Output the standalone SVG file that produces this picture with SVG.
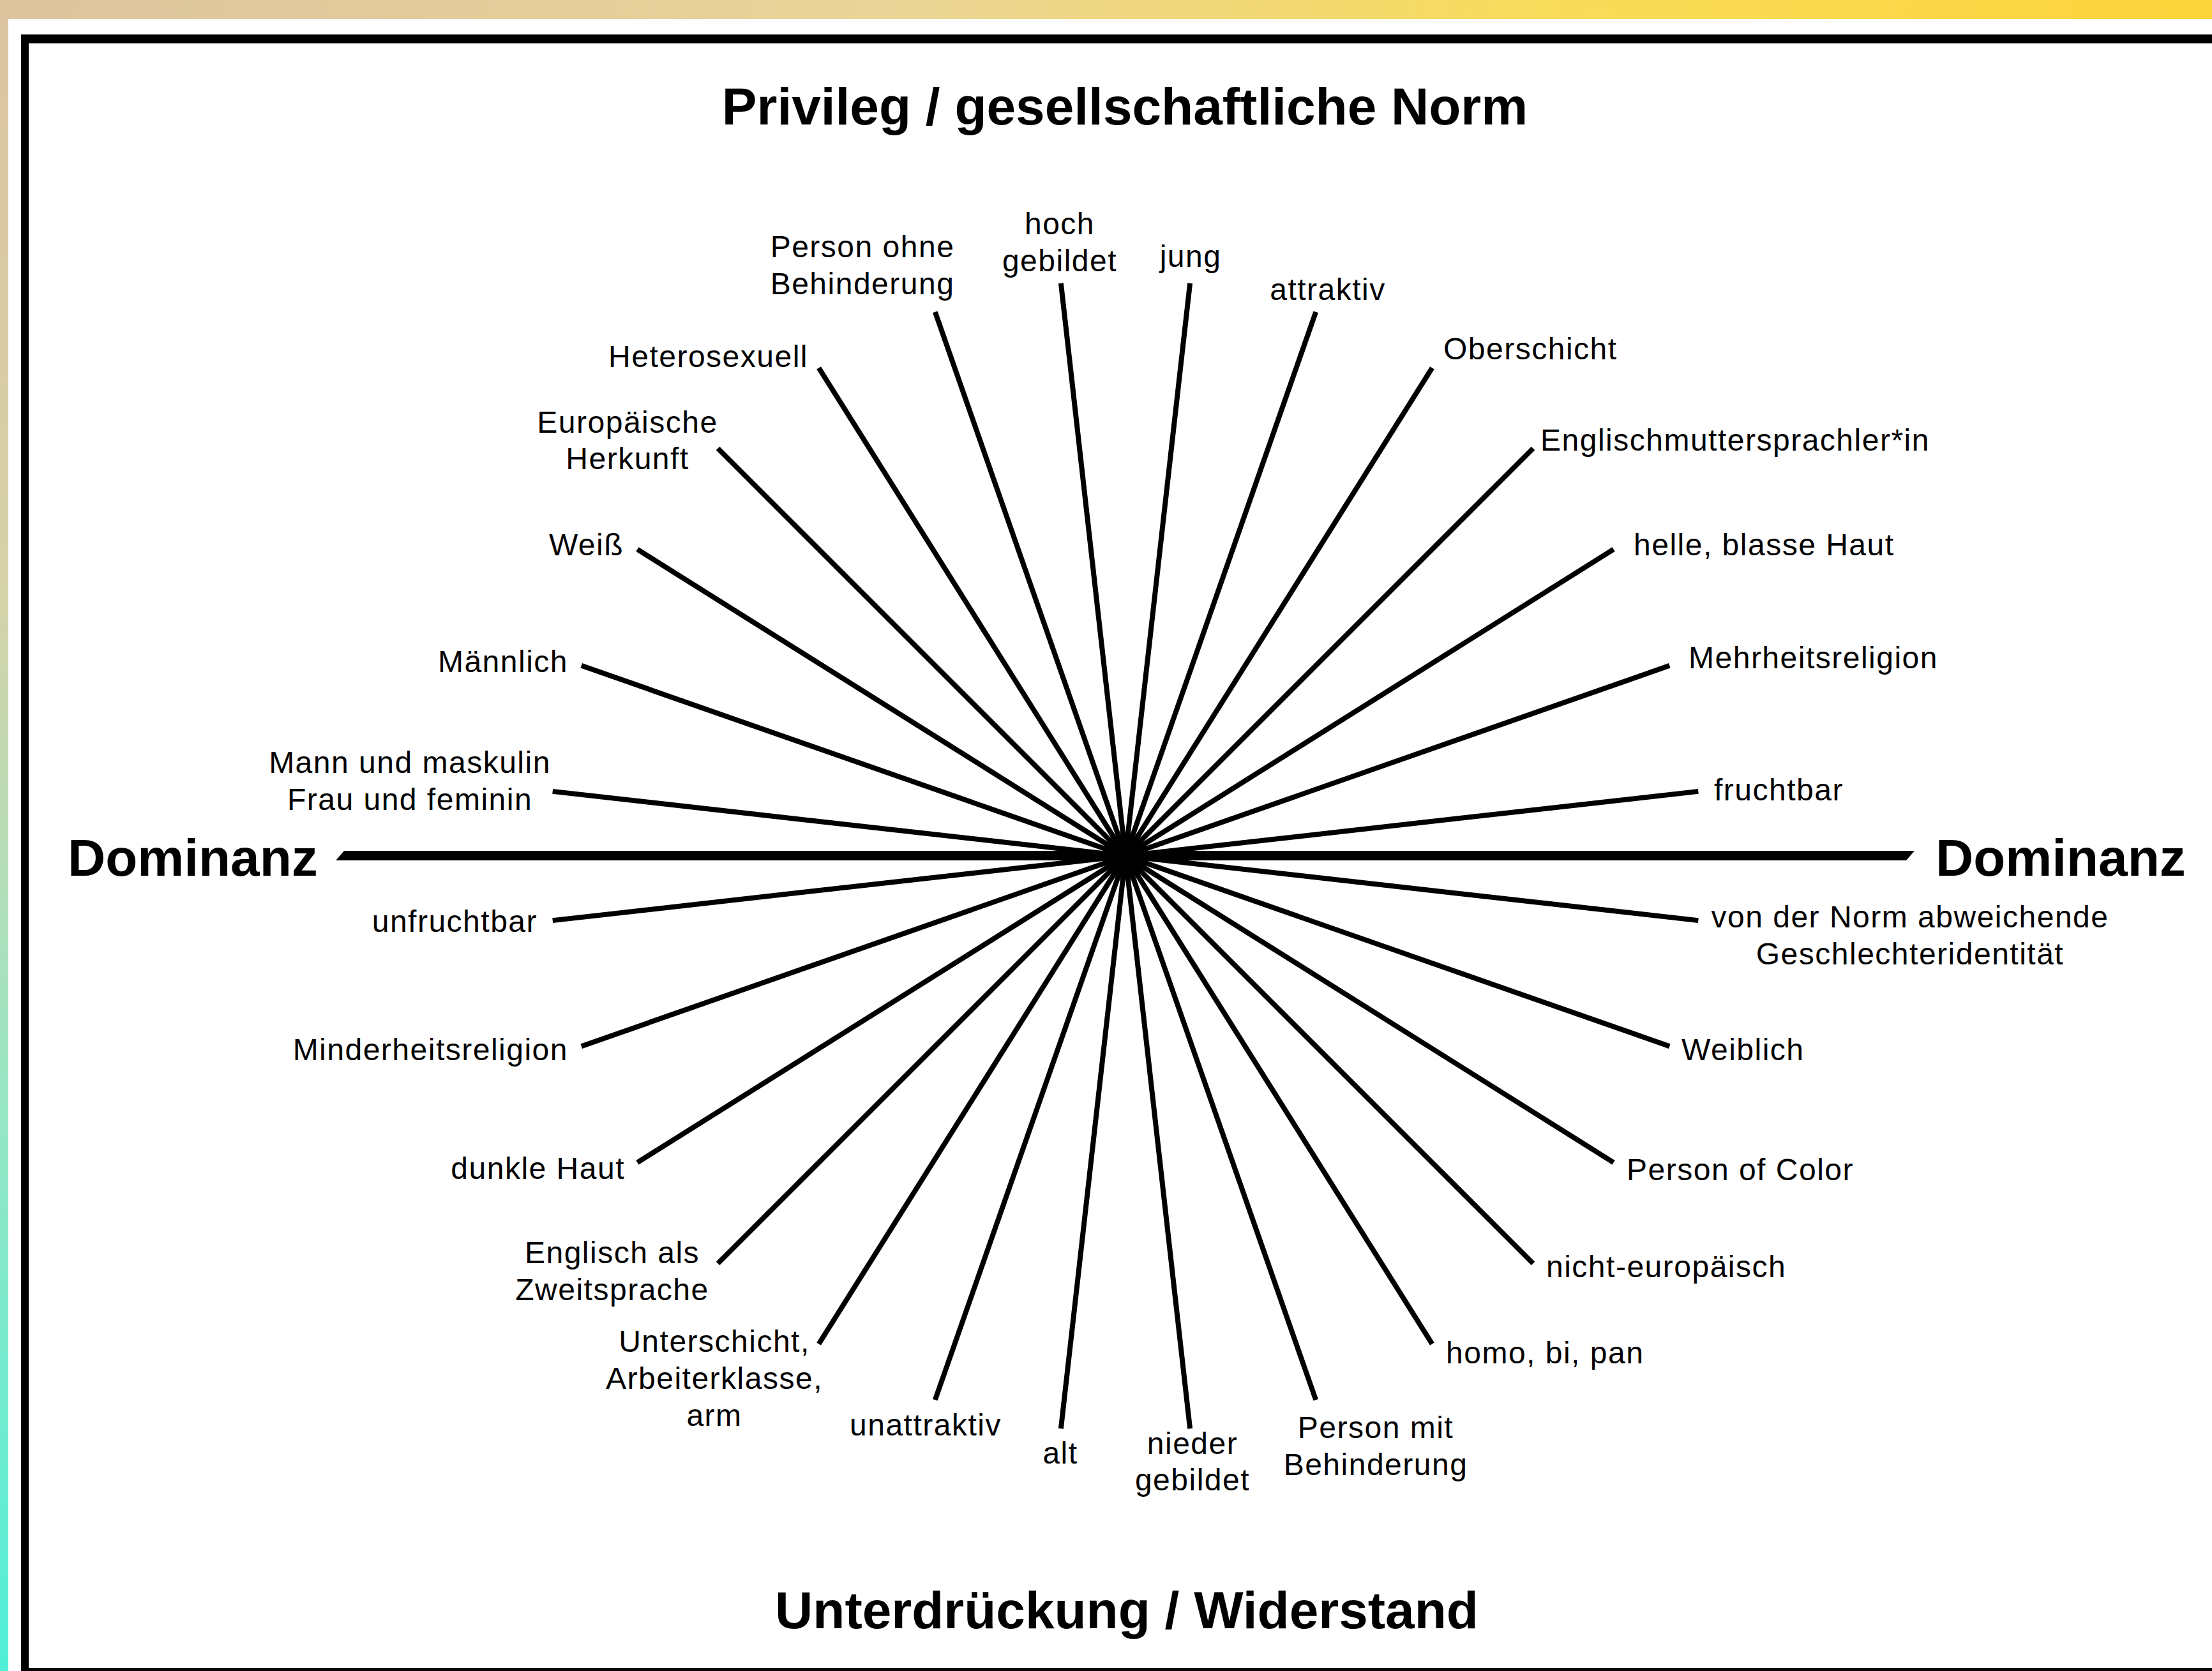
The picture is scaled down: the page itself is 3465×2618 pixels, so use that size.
<svg xmlns="http://www.w3.org/2000/svg" width="3465" height="2618" viewBox="0 0 3465 2618">
<defs>
<linearGradient id="gTop" x1="0" y1="0" x2="1" y2="0">
<stop offset="0" stop-color="#dcc49f"/>
<stop offset="0.4" stop-color="#ead497"/>
<stop offset="0.7" stop-color="#f8dc5a"/>
<stop offset="1" stop-color="#fcd43a"/>
</linearGradient>
<linearGradient id="gLeft" x1="0" y1="0" x2="0" y2="1">
<stop offset="0" stop-color="#dcc49f"/>
<stop offset="0.35" stop-color="#d6d2a8"/>
<stop offset="0.65" stop-color="#9ae6c4"/>
<stop offset="1" stop-color="#50efd8"/>
</linearGradient>
<style>
.lbl{font-family:"Liberation Sans",Arial,Helvetica,sans-serif;font-size:48px;letter-spacing:1.5px;fill:#000}
.ttl{font-family:"Liberation Sans",Arial,Helvetica,sans-serif;font-weight:bold;fill:#000}
.spoke{stroke:#000;stroke-width:8;stroke-linecap:butt;fill:none}
.s{text-anchor:start}.e{text-anchor:end}.m{text-anchor:middle}
</style>
</defs>
<rect x="0" y="0" width="3465" height="2618" fill="#ffffff"/>
<rect x="0" y="0" width="3465" height="30" fill="url(#gTop)"/>
<rect x="0" y="0" width="13" height="2618" fill="url(#gLeft)"/>
<rect x="0" y="0" width="13" height="30" fill="#dcc49f"/>
<g id="frame" fill="#000">
<rect x="33" y="54" width="3432" height="14"/>
<rect x="33" y="54" width="12" height="2564"/>
<rect x="33" y="2613" width="3432" height="5"/>
</g>
<g id="connectors">
<polygon id="axis" points="539,1333 2999,1333 2986,1348 526,1348" fill="#000"/>
<line class="spoke" x1="1763" y1="1341" x2="2660.3" y2="1239.9"/>
<line class="spoke" x1="1763" y1="1341" x2="2615.3" y2="1042.8"/>
<line class="spoke" x1="1763" y1="1341" x2="2527.6" y2="860.6"/>
<line class="spoke" x1="1763" y1="1341" x2="2401.5" y2="702.5"/>
<line class="spoke" x1="1763" y1="1341" x2="2243.4" y2="576.4"/>
<line class="spoke" x1="1763" y1="1341" x2="2061.2" y2="488.7"/>
<line class="spoke" x1="1763" y1="1341" x2="1864.1" y2="443.7"/>
<line class="spoke" x1="1763" y1="1341" x2="1661.9" y2="443.7"/>
<line class="spoke" x1="1763" y1="1341" x2="1464.8" y2="488.7"/>
<line class="spoke" x1="1763" y1="1341" x2="1282.6" y2="576.4"/>
<line class="spoke" x1="1763" y1="1341" x2="1124.5" y2="702.5"/>
<line class="spoke" x1="1763" y1="1341" x2="998.4" y2="860.6"/>
<line class="spoke" x1="1763" y1="1341" x2="910.7" y2="1042.8"/>
<line class="spoke" x1="1763" y1="1341" x2="865.7" y2="1239.9"/>
<line class="spoke" x1="1763" y1="1341" x2="865.7" y2="1442.1"/>
<line class="spoke" x1="1763" y1="1341" x2="910.7" y2="1639.2"/>
<line class="spoke" x1="1763" y1="1341" x2="998.4" y2="1821.4"/>
<line class="spoke" x1="1763" y1="1341" x2="1124.5" y2="1979.5"/>
<line class="spoke" x1="1763" y1="1341" x2="1282.6" y2="2105.6"/>
<line class="spoke" x1="1763" y1="1341" x2="1464.8" y2="2193.3"/>
<line class="spoke" x1="1763" y1="1341" x2="1661.9" y2="2238.3"/>
<line class="spoke" x1="1763" y1="1341" x2="1864.1" y2="2238.3"/>
<line class="spoke" x1="1763" y1="1341" x2="2061.2" y2="2193.3"/>
<line class="spoke" x1="1763" y1="1341" x2="2243.4" y2="2105.6"/>
<line class="spoke" x1="1763" y1="1341" x2="2401.5" y2="1979.5"/>
<line class="spoke" x1="1763" y1="1341" x2="2527.6" y2="1821.4"/>
<line class="spoke" x1="1763" y1="1341" x2="2615.3" y2="1639.2"/>
<line class="spoke" x1="1763" y1="1341" x2="2660.3" y2="1442.1"/>
</g>
<g id="title-top"><text class="ttl m" x="1762" y="195" font-size="82">Privileg / gesellschaftliche Norm</text></g>
<g id="title-bottom"><text class="ttl m" x="1765" y="2551" font-size="82">Unterdrückung / Widerstand</text></g>
<g id="dominanz-left"><text class="ttl s" x="106" y="1372" font-size="82">Dominanz</text></g>
<g id="dominanz-right"><text class="ttl s" x="3032" y="1372" font-size="82">Dominanz</text></g>
<g id="n-fruchtbar"><text class="lbl s" x="2685" y="1254">fruchtbar</text></g>
<g id="n-mehrheitsreligion"><text class="lbl s" x="2645" y="1047">Mehrheitsreligion</text></g>
<g id="n-helle-haut"><text class="lbl s" x="2559" y="870">helle, blasse Haut</text></g>
<g id="n-englischmuttersprachler"><text class="lbl s" x="2413" y="706">Englischmuttersprachler*in</text></g>
<g id="n-oberschicht"><text class="lbl s" x="2261" y="563">Oberschicht</text></g>
<g id="n-attraktiv"><text class="lbl m" x="2080" y="470">attraktiv</text></g>
<g id="n-jung"><text class="lbl m" x="1865" y="418">jung</text></g>
<g id="n-hoch-gebildet"><text class="lbl m" x="1660" y="367">hoch</text><text class="lbl m" x="1660" y="425">gebildet</text></g>
<g id="n-person-ohne-behinderung"><text class="lbl m" x="1351" y="403">Person ohne</text><text class="lbl m" x="1351" y="461">Behinderung</text></g>
<g id="n-heterosexuell"><text class="lbl e" x="1266" y="575">Heterosexuell</text></g>
<g id="n-europaeische-herkunft"><text class="lbl m" x="983" y="678">Europäische</text><text class="lbl m" x="983" y="735">Herkunft</text></g>
<g id="n-weiss"><text class="lbl e" x="977" y="870">Weiß</text></g>
<g id="n-maennlich"><text class="lbl e" x="890" y="1053">Männlich</text></g>
<g id="n-mann-frau"><text class="lbl m" x="642" y="1211">Mann und maskulin</text><text class="lbl m" x="642" y="1269">Frau und feminin</text></g>
<g id="n-unfruchtbar"><text class="lbl e" x="842" y="1460">unfruchtbar</text></g>
<g id="n-minderheitsreligion"><text class="lbl e" x="890" y="1661">Minderheitsreligion</text></g>
<g id="n-dunkle-haut"><text class="lbl e" x="979" y="1847">dunkle Haut</text></g>
<g id="n-englisch-zweitsprache"><text class="lbl m" x="959" y="1979">Englisch als</text><text class="lbl m" x="959" y="2037">Zweitsprache</text></g>
<g id="n-unterschicht"><text class="lbl m" x="1119" y="2118">Unterschicht,</text><text class="lbl m" x="1119" y="2176">Arbeiterklasse,</text><text class="lbl m" x="1119" y="2234">arm</text></g>
<g id="n-unattraktiv"><text class="lbl m" x="1450" y="2249">unattraktiv</text></g>
<g id="n-alt"><text class="lbl m" x="1661" y="2293">alt</text></g>
<g id="n-nieder-gebildet"><text class="lbl m" x="1868" y="2278">nieder</text><text class="lbl m" x="1868" y="2335">gebildet</text></g>
<g id="n-person-mit-behinderung"><text class="lbl m" x="2155" y="2253">Person mit</text><text class="lbl m" x="2155" y="2311">Behinderung</text></g>
<g id="n-homo-bi-pan"><text class="lbl s" x="2265" y="2136">homo, bi, pan</text></g>
<g id="n-nicht-europaeisch"><text class="lbl s" x="2422" y="2001">nicht-europäisch</text></g>
<g id="n-person-of-color"><text class="lbl s" x="2548" y="1849">Person of Color</text></g>
<g id="n-weiblich"><text class="lbl s" x="2634" y="1661">Weiblich</text></g>
<g id="n-norm-abweichend"><text class="lbl m" x="2992" y="1453">von der Norm abweichende</text><text class="lbl m" x="2992" y="1511">Geschlechteridentität</text></g>
</svg>
